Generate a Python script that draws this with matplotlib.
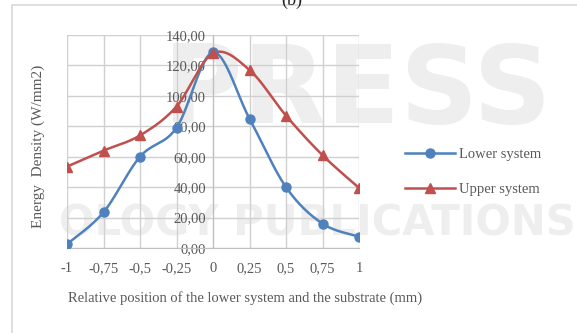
import numpy as np
import matplotlib
matplotlib.use("Agg")
import matplotlib.pyplot as plt
from matplotlib.patches import Rectangle

plt.rcParams["font.family"] = ["Liberation Serif", "DejaVu Serif"]

positions = [-1, -0.75, -0.5, -0.25, 0, 0.25, 0.5, 0.75, 1]
x_labels = ["-1", "-0,75", "-0,5", "-0,25", "0", "0,25", "0,5", "0,75", "1"]
lower_system = [2.5, 23.5, 60, 79, 128.5, 85, 40, 16, 7.5]
upper_system = [53.5, 64, 74, 93, 128, 117, 87, 61, 39.5]
y_ticks = [0, 20, 40, 60, 80, 100, 120, 140]
y_labels = ["0,00", "20,00", "40,00", "60,00", "80,00", "100,00", "120,00", "140,00"]

TEXT = "#595959"
BLUE = "#4F81BD"
RED = "#C0504D"


def smooth(xs, ys, steps=30):
    # Catmull-Rom style curve through the points, like Excel's smoothed line
    xs = np.asarray(xs, float)
    ys = np.asarray(ys, float)
    px = np.concatenate([[xs[0]], xs, [xs[-1]]])
    py = np.concatenate([[ys[0]], ys, [ys[-1]]])
    out_x, out_y = [], []
    t = np.linspace(0, 1, steps)
    for i in range(1, len(px) - 2):
        x0, x1, x2, x3 = px[i - 1:i + 3]
        y0, y1, y2, y3 = py[i - 1:i + 3]
        c1x, c1y = x1 + (x2 - x0) / 6, y1 + (y2 - y0) / 6
        c2x, c2y = x2 - (x3 - x1) / 6, y2 - (y3 - y1) / 6
        bx = (1 - t) ** 3 * x1 + 3 * (1 - t) ** 2 * t * c1x + 3 * (1 - t) * t ** 2 * c2x + t ** 3 * x2
        by = (1 - t) ** 3 * y1 + 3 * (1 - t) ** 2 * t * c1y + 3 * (1 - t) * t ** 2 * c2y + t ** 3 * y2
        out_x.extend(bx)
        out_y.extend(by)
    return out_x, out_y


fig = plt.figure(figsize=(5.77, 3.33), dpi=100)

# chart frame and cut-off caption
fig.patches.append(Rectangle((12 / 577, -0.1), 1.2, 1 - 5 / 333 + 0.1,
                             transform=fig.transFigure, fill=False,
                             edgecolor="#d9d9d9", linewidth=1.2))
fig.text(0.505, 1.0, "(b)", ha="center", va="center", fontsize=13, color="#222222")

# faint watermark behind the chart
fig.text(0.62, 0.72, "PRESS", ha="center", va="center", fontsize=78,
         color="#eeeeee", fontweight="bold", family="DejaVu Sans", zorder=-2)
fig.text(0.55, 0.33, "OLOGY PUBLICATIONS", ha="center", va="center", fontsize=30,
         color="#eeeeee", fontweight="bold", family="DejaVu Sans", zorder=-2)

ax = fig.add_axes([67 / 577, 1 - 248 / 333, 292 / 577, 213 / 333])
ax.patch.set_alpha(0)

lx, ly = smooth(positions, lower_system)
ux, uy = smooth(positions, upper_system)
ax.plot(lx, ly, color=BLUE, linewidth=1.8, zorder=3)
ax.plot(ux, uy, color=RED, linewidth=1.8, zorder=3)
ax.plot(positions, lower_system, "o", color=BLUE, markersize=6.5, zorder=4)
ax.plot(positions, upper_system, "^", color=RED, markersize=6.5, zorder=4)

ax.plot([], [], color=BLUE, linewidth=1.8, marker="o", markersize=6.5, label="Lower system")
ax.plot([], [], color=RED, linewidth=1.8, marker="^", markersize=6.5, label="Upper system")

ax.set_xlim(-1, 1)
ax.set_ylim(0, 140)
ax.set_xticks(positions)
ax.set_xticklabels(x_labels)
ax.set_yticks(y_ticks)
ax.set_yticklabels(y_labels)
ax.grid(True, color="#d0d0d0", linewidth=1.0, zorder=1)
ax.set_axisbelow(True)

for side in ["top", "right"]:
    ax.spines[side].set_visible(False)
ax.spines["left"].set_position(("data", 0))
ax.spines["left"].set_color("#bfbfbf")
ax.spines["bottom"].set_color("#bfbfbf")
ax.tick_params(length=0, labelsize=10.5, labelcolor=TEXT)
ax.tick_params(axis="x", pad=10)
ax.tick_params(axis="y", pad=5)

fig.text(38 / 577, 1 - 146 / 333, "Energy  Density (W/mm2)", rotation=90,
         ha="center", va="center", fontsize=11, color=TEXT)
fig.text(245 / 577, 1 - 298 / 333, "Relative position of the lower system and the substrate (mm)",
         ha="center", va="center", fontsize=10.5, color=TEXT)

fig.legend(loc="center left", bbox_to_anchor=(392 / 577, 1 - 172 / 333), frameon=False,
           fontsize=10.5, labelcolor=TEXT, handlelength=3.4, labelspacing=1.45,
           handletextpad=0.3)

fig.savefig("out.png", dpi=100)
